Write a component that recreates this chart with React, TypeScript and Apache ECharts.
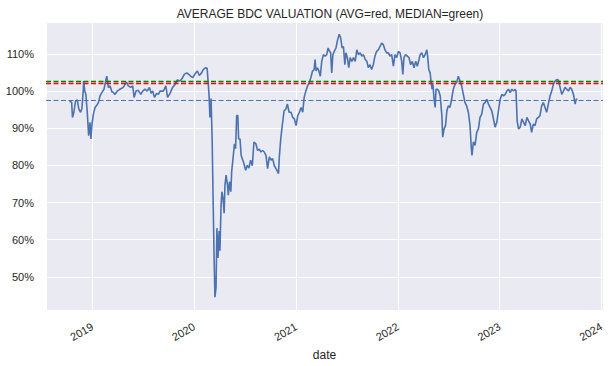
import React, { useEffect, useRef } from "react";
import * as echarts from "echarts";

// Days since 2019-01-01 and average BDC valuation (% of NAV)
const daysA = [
  -82, -74, -71, -66, -60, -54, -48, -42, -37, -32,
  -31, -27, -23, -18, -13, -8, -5, -1, 4, 10,
  16, 22, 28, 34, 42, 49, 52, 58, 64, 70,
  76, 81, 90, 99, 111, 123, 129, 138, 145, 150,
  157, 165, 174, 181, 189, 197, 205, 211, 217, 223,
  231, 237, 243, 255, 264, 270, 279, 288, 297, 305,
  315, 324, 330, 339, 346, 353, 360, 369, 377, 384,
  392, 398, 407, 412, 415, 419, 422, 426, 430, 433,
  437, 440, 444, 447, 451, 455, 458, 462, 465, 469,
  473, 476, 480, 485, 488, 492, 497, 500, 506, 510, 514,
];
const valuesA = [
  97.3, 97.0, 92.9, 94.3, 97.4, 97.6, 95.1, 94.3, 95.4, 100.5,
  102.7, 100.0, 99.1, 94.3, 88.0, 91.6, 87.1, 91.1, 93.8, 95.6,
  96.2, 96.9, 98.7, 99.6, 100.5, 103.1, 104.0, 100.9, 101.4, 99.8,
  99.6, 99.1, 100.0, 100.5, 101.0, 102.4, 101.4, 101.0, 101.4, 98.3,
  100.0, 100.2, 99.1, 100.0, 100.5, 100.0, 101.0, 99.4, 100.0, 98.3,
  99.4, 99.1, 100.0, 100.0, 101.4, 98.3, 99.4, 101.0, 101.8, 103.0,
  102.7, 103.6, 104.5, 104.9, 104.5, 104.0, 103.6, 104.7, 105.4, 104.2,
  104.9, 105.8, 106.3, 106.1, 103.1, 98.7, 92.9, 98.0, 87.1, 72.9,
  55.1, 44.5, 47.1, 63.1, 55.1, 62.3, 57.0, 69.4, 72.9, 71.1,
  67.1, 74.7, 77.4, 74.7, 72.0, 75.6, 72.9, 78.3, 82.7, 85.8, 84.5,
];
const daysB = [
  518, 522, 525, 530, 534, 538, 544, 550, 556, 562,
  568, 574, 580, 587, 593, 599, 605, 611, 617, 623,
  629, 635, 641, 647, 653, 662, 668, 671, 676, 682,
  688, 694, 700, 706, 713, 719, 725, 731, 737, 743,
  749, 755, 760, 766, 772, 778, 784, 790, 796, 799,
  803, 808, 813, 818, 823, 829, 835, 841, 846, 851,
  855, 859, 863, 868, 874, 880, 886, 891, 896, 901,
  906, 910, 915, 920, 925, 931, 937, 943, 949, 955,
  961, 967, 973, 979, 985, 990, 996, 1002, 1008, 1014,
  1020, 1026, 1032, 1038, 1044, 1050, 1056, 1062, 1068, 1074,
  1080, 1086, 1092, 1098, 1104, 1110, 1114, 1118, 1124, 1130,
  1136, 1142, 1148, 1154, 1160, 1166, 1172,
];
const valuesB = [
  93.4, 93.4, 87.1, 87.1, 82.7, 81.8, 80.5, 78.7, 80.0, 79.3,
  81.4, 79.9, 86.3, 85.8, 84.0, 84.4, 83.6, 84.0, 83.6, 82.7,
  79.1, 82.3, 81.4, 81.8, 79.9, 78.7, 77.8, 82.3, 87.1, 91.1,
  94.7, 95.1, 96.5, 94.3, 94.3, 92.9, 92.5, 90.7, 93.4, 94.3,
  95.6, 94.3, 98.3, 100.0, 101.4, 102.3, 103.6, 105.4, 105.8, 108.5,
  105.4, 106.3, 105.4, 104.0, 108.0, 109.8, 109.4, 109.8, 111.6, 110.7,
  110.3, 104.9, 109.8, 110.7, 111.6, 113.8, 115.3, 114.3, 111.6, 112.0,
  107.1, 110.3, 109.0, 106.3, 109.0, 108.0, 109.0, 108.0, 111.1, 109.8,
  110.3, 109.4, 109.8, 108.5, 108.0, 106.3, 107.1, 105.8, 107.1, 109.4,
  110.7, 111.1, 112.0, 112.9, 112.5, 111.1, 110.3, 110.3, 109.4, 109.8,
  106.7, 109.8, 109.0, 110.7, 110.3, 108.0, 104.5, 109.0, 109.8, 109.4,
  109.0, 107.1, 108.0, 106.3, 108.0, 106.7, 108.5,
];
const daysC = [
  1176, 1182, 1188, 1194, 1200, 1203, 1207, 1212, 1215, 1219,
  1222, 1226, 1230, 1233, 1238, 1243, 1248, 1254, 1257, 1262,
  1267, 1272, 1277, 1283, 1289, 1295, 1301, 1307, 1313, 1319,
  1325, 1331, 1337, 1343, 1349, 1355, 1359, 1362, 1367, 1373,
  1379, 1385, 1391, 1397, 1403, 1409, 1415, 1421, 1427, 1433,
  1439, 1445, 1451, 1457, 1463, 1469, 1475, 1481, 1487, 1493,
  1499, 1505, 1511, 1517, 1520, 1524, 1529, 1535, 1541, 1547,
  1553, 1559, 1565, 1571, 1576, 1582, 1588, 1594, 1600, 1606,
  1612, 1618, 1624, 1630, 1636, 1642, 1648, 1654, 1660, 1666,
  1672, 1678, 1684, 1690, 1696, 1702, 1708, 1714, 1720, 1726,
  1732, 1736, 1740,
];
const valuesC = [
  109.8, 110.3, 109.0, 109.8, 111.1, 109.4, 105.8, 104.9, 102.7, 100.5,
  101.8, 97.8, 95.6, 100.5, 100.5, 100.0, 98.7, 93.4, 87.6, 89.8,
  90.7, 94.7, 96.0, 95.6, 97.8, 100.5, 101.8, 102.3, 104.0, 102.7,
  101.4, 99.1, 96.9, 96.0, 94.3, 90.7, 85.4, 82.7, 86.3, 85.4,
  88.9, 89.8, 92.9, 93.8, 96.5, 96.9, 97.8, 96.5, 95.6, 94.7,
  92.5, 90.3, 91.6, 94.7, 97.8, 99.1, 98.7, 99.1, 100.0, 100.5,
  99.6, 100.5, 100.0, 100.5, 100.0, 92.0, 89.8, 90.3, 92.5, 91.6,
  90.7, 92.9, 92.0, 91.1, 88.9, 91.1, 90.7, 92.5, 92.9, 93.4,
  96.0, 96.9, 95.6, 94.3, 96.5, 98.7, 100.0, 101.8, 102.7, 103.1,
  103.0, 101.0, 99.1, 100.0, 101.0, 100.5, 100.0, 101.0, 100.5, 99.1,
  96.5, 97.8, 97.9,
];

// Reference lines
const AVG_LEVEL = 102.1;
const MEDIAN_LEVEL = 102.6;
const CURRENT_LEVEL = 97.4;

// Axis ranges
const X_RANGE_DAYS = [-166, 1832];
const Y_RANGE = [40.9, 118.6];

const TITLE = "AVERAGE BDC VALUATION (AVG=red, MEDIAN=green)";
const X_NAME = "date";

const DAY_MS = 86400000;
const BASE = new Date(2019, 0, 1).getTime();
const toTime = (d: number) => BASE + d * DAY_MS;

export default function App() {
  const ref = useRef<HTMLDivElement>(null);
  useEffect(() => {
    document.body.style.margin = "0";
    if (!ref.current) return;
    const chart = echarts.init(ref.current, null, { renderer: "svg" });
    const days = [...daysA, ...daysB, ...daysC];
    const vals = [...valuesA, ...valuesB, ...valuesC];
    const n = Math.min(days.length, vals.length);
    const data: [number, number][] = [];
    for (let i = 0; i < n; i++) data.push([toTime(days[i]), vals[i]]);

    const font = "'Liberation Sans', Arial, sans-serif";
    const textColor = "#262626";
    chart.setOption({
      animation: false,
      backgroundColor: "#ffffff",
      title: {
        text: TITLE,
        left: 325,
        top: 3,
        textAlign: "center",
        textStyle: { fontSize: 12, fontWeight: "normal", color: textColor, fontFamily: font },
      },
      grid: {
        left: 46,
        right: 13,
        top: 22,
        bottom: 53,
        show: true,
        backgroundColor: "#EAEAF2",
        borderWidth: 0,
      },
      xAxis: {
        type: "time",
        min: toTime(X_RANGE_DAYS[0]),
        max: toTime(X_RANGE_DAYS[1]),
        splitNumber: 5,
        minInterval: 365 * DAY_MS,
        name: X_NAME,
        nameLocation: "middle",
        nameGap: 38,
        nameTextStyle: { fontSize: 12, color: textColor, fontFamily: font },
        axisLine: { show: false },
        axisTick: { show: false },
        splitLine: { show: true, lineStyle: { color: "#ffffff", width: 1 } },
        axisLabel: {
          rotate: 30,
          margin: 15,
          fontSize: 11,
          color: textColor,
          fontFamily: font,
          hideOverlap: false,
          formatter: (v: number) => String(new Date(v).getFullYear()),
        },
      },
      yAxis: {
        type: "value",
        min: Y_RANGE[0],
        max: Y_RANGE[1],
        splitNumber: 8,
        minInterval: 10,
        maxInterval: 10,
        axisLine: { show: false },
        axisTick: { show: false },
        splitLine: { show: true, lineStyle: { color: "#ffffff", width: 1 } },
        axisLabel: {
          showMinLabel: false,
          showMaxLabel: false,
          margin: 12,
          fontSize: 11,
          color: textColor,
          fontFamily: font,
          formatter: (v: number) => `${Math.round(v)}%`,
        },
      },
      series: [
        {
          type: "line",
          data,
          showSymbol: false,
          symbol: "none",
          lineStyle: { color: "#4C72B0", width: 1.6 },
          markLine: {
            silent: true,
            symbol: ["none", "none"],
            label: { show: false },
            data: [
              { yAxis: CURRENT_LEVEL, lineStyle: { color: "#4C72B0", type: [5, 2.5], width: 1.1 } },
              { yAxis: AVG_LEVEL, lineStyle: { color: "#FF0000", type: [5, 2.5], width: 1.3 } },
              { yAxis: MEDIAN_LEVEL, lineStyle: { color: "#008000", type: [5, 2.5], width: 1.3 } },
            ],
          },
        },
      ],
    });
    return () => chart.dispose();
  }, []);
  return <div ref={ref} style={{ width: 616, height: 366 }} />;
}
